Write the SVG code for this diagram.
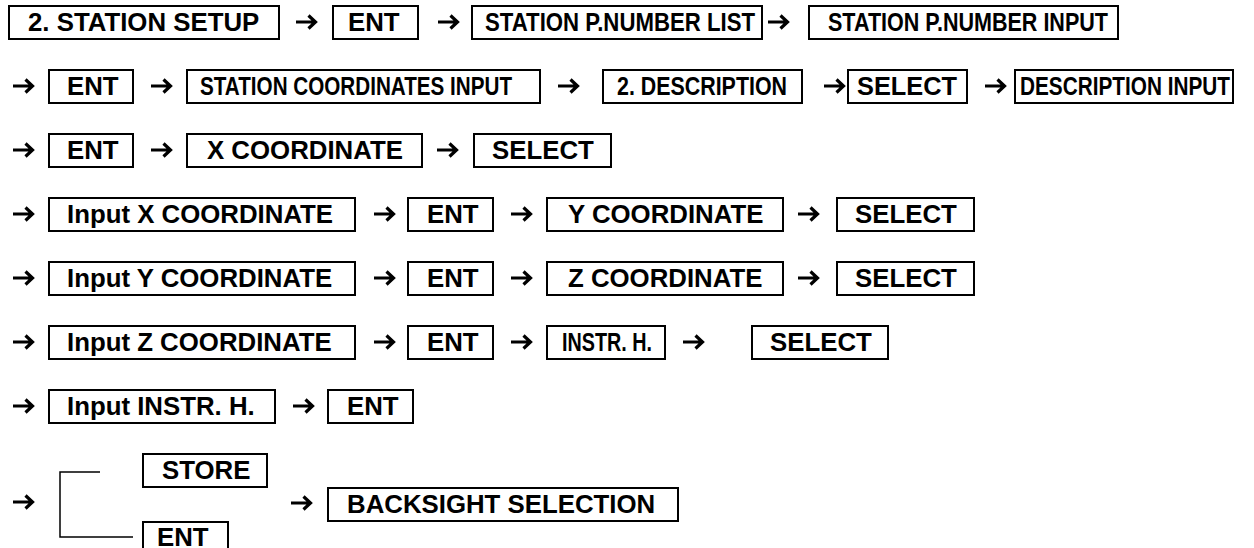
<svg xmlns="http://www.w3.org/2000/svg" xmlns:xlink="http://www.w3.org/1999/xlink" width="1254" height="548" viewBox="0 0 1254 548">
<style>
.b{fill:none;stroke:#000;stroke-width:2}
.t{font-family:"Liberation Sans",Arial,sans-serif;font-weight:bold;font-size:25.8px;fill:#000}
.a{fill:none;stroke:#000;stroke-width:3.2;stroke-linejoin:miter;stroke-linecap:butt}
.l{fill:none;stroke:#000;stroke-width:1.5}
</style>
<defs>
<path id="arr" class="a" d="M0,0 H19.5 M12.5,-6.5 L19.5,0 L12.5,6.5"/>
</defs>
<rect width="1254" height="548" fill="#fff"/>
<g id="connectors">
<use xlink:href="#arr" x="296" y="22"/>
<use xlink:href="#arr" x="438" y="22"/>
<use xlink:href="#arr" x="768" y="22"/>
<use xlink:href="#arr" x="13" y="86"/>
<use xlink:href="#arr" x="151" y="86"/>
<use xlink:href="#arr" x="558" y="86"/>
<use xlink:href="#arr" x="824" y="86"/>
<use xlink:href="#arr" x="985" y="86"/>
<use xlink:href="#arr" x="13" y="150"/>
<use xlink:href="#arr" x="151" y="150"/>
<use xlink:href="#arr" x="437" y="150"/>
<use xlink:href="#arr" x="13" y="214"/>
<use xlink:href="#arr" x="374" y="214"/>
<use xlink:href="#arr" x="511" y="214"/>
<use xlink:href="#arr" x="798" y="214"/>
<use xlink:href="#arr" x="13" y="278"/>
<use xlink:href="#arr" x="374" y="278"/>
<use xlink:href="#arr" x="511" y="278"/>
<use xlink:href="#arr" x="798" y="278"/>
<use xlink:href="#arr" x="13" y="342"/>
<use xlink:href="#arr" x="374" y="342"/>
<use xlink:href="#arr" x="511" y="342"/>
<use xlink:href="#arr" x="683" y="342"/>
<use xlink:href="#arr" x="13" y="406"/>
<use xlink:href="#arr" x="293" y="406"/>
<use xlink:href="#arr" x="13" y="502"/>
<use xlink:href="#arr" x="291" y="503"/>
<path class="l" d="M100,472 H60 V537 H133"/>
</g>
<g id="n1"><rect class="b" x="9" y="6" width="270" height="33"/><text class="t" x="28" y="31">2. STATION SETUP</text></g>
<g id="n2"><rect class="b" x="333" y="6" width="85" height="33"/><text class="t" x="348" y="31">ENT</text></g>
<g id="n3"><rect class="b" x="472" y="6" width="290" height="33"/><text class="t" x="485" y="31" textLength="270" lengthAdjust="spacingAndGlyphs">STATION P.NUMBER LIST</text></g>
<g id="n4"><rect class="b" x="809" y="6" width="309" height="33"/><text class="t" x="828" y="31" textLength="280" lengthAdjust="spacingAndGlyphs">STATION P.NUMBER INPUT</text></g>

<g id="n5"><rect class="b" x="49" y="70" width="84" height="33"/><text class="t" x="67" y="95">ENT</text></g>
<g id="n6"><rect class="b" x="187" y="70" width="353" height="33"/><text class="t" x="200" y="95" textLength="312" lengthAdjust="spacingAndGlyphs">STATION COORDINATES INPUT</text></g>
<g id="n7"><rect class="b" x="603" y="70" width="199" height="33"/><text class="t" x="617" y="95" textLength="170" lengthAdjust="spacingAndGlyphs">2. DESCRIPTION</text></g>
<g id="n8"><rect class="b" x="848" y="70" width="119" height="33"/><text class="t" x="857" y="95" textLength="100" lengthAdjust="spacingAndGlyphs">SELECT</text></g>
<g id="n9"><rect class="b" x="1015" y="70" width="218" height="33"/><text class="t" x="1020" y="95" textLength="210" lengthAdjust="spacingAndGlyphs">DESCRIPTION INPUT</text></g>

<g id="n10"><rect class="b" x="49" y="134" width="84" height="33"/><text class="t" x="67" y="159">ENT</text></g>
<g id="n11"><rect class="b" x="187" y="134" width="235" height="33"/><text class="t" x="207" y="159">X COORDINATE</text></g>
<g id="n12"><rect class="b" x="474" y="134" width="137" height="33"/><text class="t" x="492" y="159">SELECT</text></g>

<g id="n13"><rect class="b" x="49" y="198" width="306" height="33"/><text class="t" x="67" y="223">Input X COORDINATE</text></g>
<g id="n14"><rect class="b" x="408" y="198" width="85" height="33"/><text class="t" x="427" y="223">ENT</text></g>
<g id="n15"><rect class="b" x="547" y="198" width="236" height="33"/><text class="t" x="568" y="223">Y COORDINATE</text></g>
<g id="n16"><rect class="b" x="837" y="198" width="137" height="33"/><text class="t" x="855" y="223">SELECT</text></g>

<g id="n17"><rect class="b" x="49" y="262" width="306" height="33"/><text class="t" x="67" y="287">Input Y COORDINATE</text></g>
<g id="n18"><rect class="b" x="408" y="262" width="85" height="33"/><text class="t" x="427" y="287">ENT</text></g>
<g id="n19"><rect class="b" x="547" y="262" width="236" height="33"/><text class="t" x="568" y="287">Z COORDINATE</text></g>
<g id="n20"><rect class="b" x="837" y="262" width="137" height="33"/><text class="t" x="855" y="287">SELECT</text></g>

<g id="n21"><rect class="b" x="49" y="326" width="306" height="33"/><text class="t" x="67" y="351">Input Z COORDINATE</text></g>
<g id="n22"><rect class="b" x="408" y="326" width="85" height="33"/><text class="t" x="427" y="351">ENT</text></g>
<g id="n23"><rect class="b" x="547" y="326" width="118" height="33"/><text class="t" x="562" y="351" textLength="90" lengthAdjust="spacingAndGlyphs">INSTR. H.</text></g>
<g id="n24"><rect class="b" x="752" y="326" width="136" height="33"/><text class="t" x="770" y="351">SELECT</text></g>

<g id="n25"><rect class="b" x="49" y="390" width="226" height="33"/><text class="t" x="67" y="415">Input INSTR. H.</text></g>
<g id="n26"><rect class="b" x="328" y="390" width="85" height="33"/><text class="t" x="347" y="415">ENT</text></g>

<g id="n27"><rect class="b" x="143" y="454" width="124" height="33"/><text class="t" x="162" y="479">STORE</text></g>
<g id="n28"><rect class="b" x="143" y="522" width="85" height="33"/><text class="t" x="157" y="546">ENT</text></g>
<g id="n29"><rect class="b" x="328" y="488" width="350" height="33"/><text class="t" x="347" y="513">BACKSIGHT SELECTION</text></g>
</svg>
